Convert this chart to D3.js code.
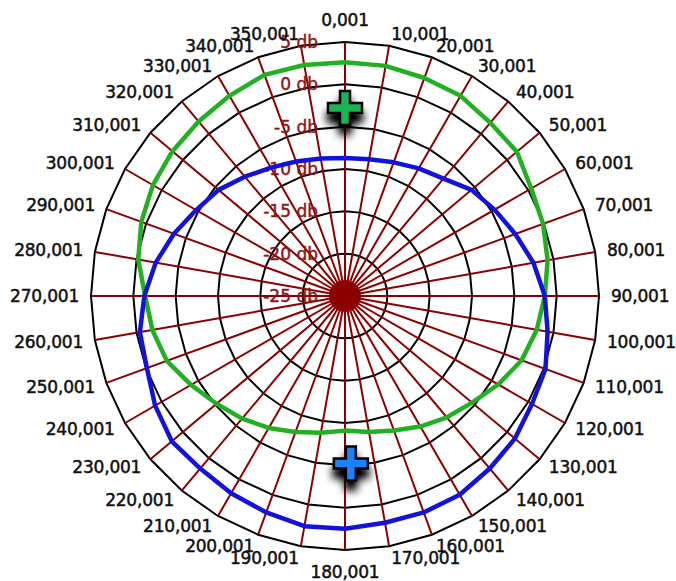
<!DOCTYPE html>
<html><head><meta charset="utf-8">
<script src="https://cdn.jsdelivr.net/npm/d3@7/dist/d3.min.js"></script>
<style>html,body{margin:0;padding:0;background:#fff;}svg{display:block;}</style>
</head><body><svg id="c" width="676" height="581"></svg>
<script>
const angles = [0,10,20,30,40,50,60,70,80,90,100,110,120,130,140,150,160,170,180,190,200,210,220,230,240,250,260,270,280,290,300,310,320,330,340,350];
const angleLabels = ["0,001","10,001","20,001","30,001","40,001","50,001","60,001","70,001","80,001","90,001","100,001","110,001","120,001","130,001","140,001","150,001","160,001","170,001","180,001","190,001","200,001","210,001","220,001","230,001","240,001","250,001","260,001","270,001","280,001","290,001","300,001","310,001","320,001","330,001","340,001","350,001"];
const ringValues = [-20,-15,-10,-5,0,5];
const dbTickValues = [5,0,-5,-10,-15,-20,-25];
const dbTickLabels = ["5 db","0 db","-5 db","-10 db","-15 db","-20 db","-25 db"];
const greenSeries = [2.6,2.6,2.4,2.3,1.7,1.5,0.4,-0.1,-0.7,-1.4,-2.0,-2.8,-4.1,-5.4,-6.3,-7.2,-8.1,-8.7,-9.1,-8.6,-7.9,-7.0,-6.1,-5.2,-4.0,-2.6,-1.9,-1.4,-0.2,0.6,1.2,1.6,1.9,2.3,2.8,2.7];
const blueSeries = [-8.7,-8.6,-8.2,-7.6,-6.9,-5.5,-4.6,-3.6,-2.4,-1.4,-0.7,0.2,0.5,1.2,1.6,2.1,2.2,2.2,2.5,2.6,2.2,1.9,1.6,1.7,0.9,-0.1,-0.4,-1.3,-2.3,-3.5,-4.7,-5.5,-6.6,-7.5,-8.1,-8.5];
const markerAngles = [0, 178];
const markerDb = [-2.8, -5.2];
const markerColors = ["#1fb257", "#1a80ff"];

const svg = d3.select("#c");
const cx = 345, cy = 296, R = 254;
const r = d3.scaleLinear().domain([-25, 5]).range([0, R]);
const a = d3.scaleLinear().domain([0, 360]).range([0, 2 * Math.PI]);

const defs = svg.append("defs");
const f = defs.append("filter").attr("id","sh").attr("x","-100%").attr("y","-100%").attr("width","300%").attr("height","300%");
f.append("feGaussianBlur").attr("in","SourceAlpha").attr("stdDeviation",4).attr("result","b");
f.append("feOffset").attr("in","b").attr("dx",0).attr("dy",9).attr("result","o");
f.append("feComponentTransfer").attr("in","o").attr("result","o2").append("feFuncA").attr("type","linear").attr("slope",1.1);
const m = f.append("feMerge");
m.append("feMergeNode").attr("in","o2");
m.append("feMergeNode").attr("in","SourceGraphic");

const g = svg.append("g").attr("transform", `translate(${cx},${cy})`);

const radial = d3.lineRadial().curve(d3.curveLinearClosed);

// rings
g.selectAll("path.ring").data(ringValues).join("path")
  .attr("class","ring")
  .attr("d", v => radial(angles.map(t => [a(t), r(v)])))
  .attr("fill","none").attr("stroke","#000").attr("stroke-width",2);

// spokes
g.selectAll("line.spoke").data(angles).join("line")
  .attr("class","spoke")
  .attr("x1",0).attr("y1",0)
  .attr("x2", t => r(5) * Math.sin(a(t)))
  .attr("y2", t => -r(5) * Math.cos(a(t)))
  .attr("stroke","#8b0000").attr("stroke-width",2);
g.append("circle").attr("r",16).attr("fill","#8b0000");

// db labels
g.selectAll("text.db").data(dbTickValues).join("text")
  .attr("class","db")
  .attr("x", -27).attr("y", v => -r(v))
  .attr("text-anchor","end").attr("dominant-baseline","central")
  .attr("font-family","DejaVu Sans").attr("font-size",17)
  .attr("fill","#8f1616").attr("stroke","#8f1616").attr("stroke-width",0.45)
  .text((v,i) => dbTickLabels[i]);

// angle labels
g.selectAll("text.ang").data(angles).join("text")
  .attr("class","ang")
  .attr("x", t => (t === 0 || t === 180 ? 0 : (R + 12) * Math.sin(a(t))))
  .attr("y", t => (t === 0 ? -(R + 22) : t === 180 ? (R + 22) : -(R + 12) * Math.cos(a(t))))
  .attr("text-anchor", t => (t === 0 || t === 180) ? "middle" : (t < 180 ? "start" : "end"))
  .attr("dominant-baseline","central")
  .attr("font-family","DejaVu Sans").attr("font-size",17)
  .attr("fill","#111").attr("stroke","#111").attr("stroke-width",0.5)
  .attr("letter-spacing",-0.2)
  .text((t,i) => angleLabels[i]);

// series
const series = [{vals: greenSeries, color: "#22b022"}, {vals: blueSeries, color: "#1212dc"}];
g.selectAll("path.series").data(series).join("path")
  .attr("class","series")
  .attr("d", s => radial(angles.map((t,i) => [a(t), r(s.vals[i])])))
  .attr("fill","none").attr("stroke", s => s.color).attr("stroke-width",4.5)
  .attr("stroke-linejoin","round");

// markers
const plus = "M-5,-17H5V-5H17V5H5V17H-5V5H-17V-5H-5Z";
g.selectAll("path.mk").data(markerAngles).join("path")
  .attr("class","mk")
  .attr("transform", (t,i) => `translate(${r(markerDb[i]) * Math.sin(a(t))},${-r(markerDb[i]) * Math.cos(a(t))})`)
  .attr("d", plus)
  .attr("fill", (t,i) => markerColors[i])
  .attr("stroke","#000").attr("stroke-width",2.5).attr("stroke-linejoin","miter")
  .attr("filter","url(#sh)");
</script>
</body></html>
